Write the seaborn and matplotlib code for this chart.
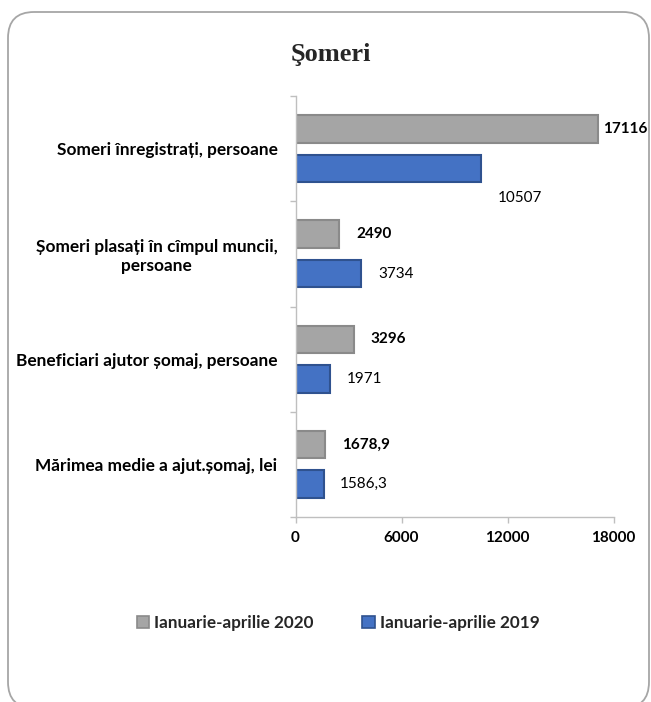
import matplotlib
matplotlib.use("Agg")
import matplotlib.pyplot as plt
from matplotlib.patches import FancyBboxPatch
import pandas as pd
import seaborn as sns

# Indicators and values for the two periods
indicators = [
    "Someri înregistrați, persoane",
    "Șomeri plasați în cîmpul muncii,\npersoane",
    "Beneficiari ajutor șomaj, persoane",
    "Mărimea medie a ajut.șomaj, lei",
]
periods = ["Ianuarie-aprilie 2020", "Ianuarie-aprilie 2019"]
values_2020 = [17116, 2490, 3296, 1678.9]
values_2019 = [10507, 3734, 1971, 1586.3]
x_ticks = [0, 6000, 12000, 18000]

df = pd.DataFrame({
    "indicator": indicators * 2,
    "period": [periods[0]] * len(indicators) + [periods[1]] * len(indicators),
    "value": values_2020 + values_2019,
})

sns.set_theme(style="white")
plt.rcParams["font.family"] = ["Lato", "DejaVu Sans"]

W, H = 651, 702
fig = plt.figure(figsize=(W / 100, H / 100), dpi=100)

# rounded frame around the whole chart
frame = FancyBboxPatch((8 / W, (H - 708) / H), (649 - 8) / W, (708 - 12) / H,
                       boxstyle="round,pad=0,rounding_size=0.04",
                       transform=fig.transFigure, facecolor="none",
                       edgecolor="#A6A6A6", linewidth=1.3, zorder=-1,
                       mutation_aspect=W / H)
fig.patches.append(frame)

ax_left, ax_right, ax_top, ax_bottom = 295.5, 613.5, 96, 517
ax = fig.add_axes([ax_left / W, 1 - ax_bottom / H,
                   (ax_right - ax_left) / W, (ax_bottom - ax_top) / H])
ax.set_facecolor("none")

fills = ["#A5A5A5", "#4472C4"]
edges = ["#8A8A8A", "#2F528F"]
sns.barplot(data=df, y="indicator", x="value", hue="period",
            hue_order=periods, order=indicators, orient="h",
            palette=fills, saturation=1, width=0.75, gap=0.3, ax=ax, legend=True)

for cont, ec in zip(ax.containers, edges):
    for bar in cont:
        bar.set_edgecolor(ec)
        bar.set_linewidth(1.5)

# value labels: 2020 bold, 2019 regular
def fmt(v):
    return str(int(v)) if float(v).is_integer() else f"{v:.1f}".replace(".", ",")

label_offsets = {
    0: [(4, 0), (12, 0), (12, 0), (12, 0)],
    1: [(12, -21), (12, 0), (12, 0), (12, 0)],
}
weights = ["bold", "normal"]
for k, cont in enumerate(ax.containers):
    for i, bar in enumerate(cont):
        v = bar.get_width()
        yc = bar.get_y() + bar.get_height() / 2
        dx, dy = label_offsets[k][i]
        ax.annotate(fmt(v), xy=(v, yc), xytext=(dx, dy),
                    textcoords="offset points", ha="left", va="center",
                    fontsize=11, fontweight=weights[k], color="black")

ax.set_xlim(0, 18000)
ax.set_xticks(x_ticks)
ax.set_xticklabels([str(t) for t in x_ticks])
ax.set_ylim(len(indicators) - 0.5, -0.5)
ax.set_yticks(range(len(indicators)))
ax.set_yticklabels(indicators, multialignment="center")
ax.set_yticks([i - 0.5 for i in range(len(indicators) + 1)], minor=True)
ax.tick_params(axis="y", which="major", length=0, pad=13, labelsize=12.4)
ax.tick_params(axis="y", which="minor", length=4, color="#BFBFBF", width=1, left=True)
ax.tick_params(axis="x", which="major", length=4, color="#BFBFBF", width=1,
               bottom=True, pad=6, labelsize=11)
for lbl in ax.get_xticklabels() + ax.get_yticklabels():
    lbl.set_fontweight("bold")
    lbl.set_color("black")
ax.set_xlabel("")
ax.set_ylabel("")
for s in ["top", "right"]:
    ax.spines[s].set_visible(False)
for s in ["left", "bottom"]:
    ax.spines[s].set_color("#BFBFBF")
    ax.spines[s].set_linewidth(1)

ax.legend_.remove()
handles = [plt.Rectangle((0, 0), 1, 1, facecolor=f, edgecolor=e, linewidth=1.2)
           for f, e in zip(fills, edges)]
fig.legend(handles, periods, loc="center", bbox_to_anchor=(338 / W, 1 - 623 / H),
           ncol=2, frameon=False, handlelength=0.75, handleheight=0.75,
           handletextpad=0.3, columnspacing=2.8,
           prop={"weight": "bold", "size": 12.3})

fig.text(331 / W, 1 - 55 / H, "Şomeri", ha="center", va="center",
         fontsize=19, fontweight="bold", family=["Liberation Serif", "DejaVu Serif"])

fig.savefig("out.png", dpi=100)
